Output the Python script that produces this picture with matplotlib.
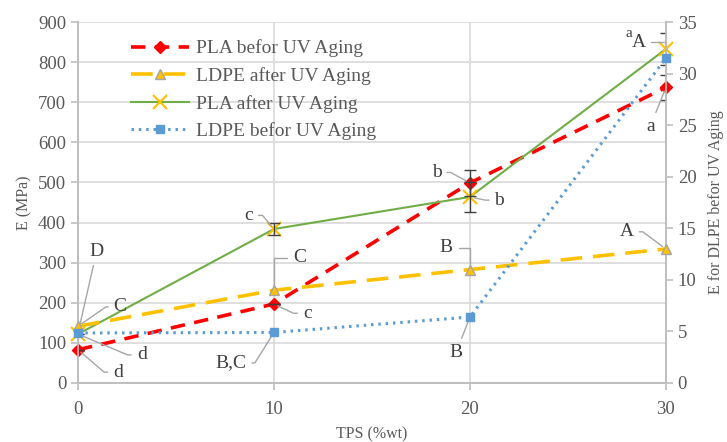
import matplotlib
matplotlib.use("Agg")
import matplotlib.pyplot as plt

# data
tps = [0, 10, 20, 30]
pla_before = [83, 197, 499, 737]
pla_before_err = [0, 0, 33, 32]
pla_after = [122, 384, 464, 833]
pla_after_err = [0, 15, 37, 40]
ldpe_after = [5.5, 9.0, 11.0, 13.0]      # right axis
ldpe_before = [4.85, 4.9, 6.4, 31.5]     # right axis

plt.rcParams['font.family'] = ['Liberation Serif', 'DejaVu Serif']
grey = '#595959'

fig = plt.figure(figsize=(7.27, 4.42), dpi=100)
ax = fig.add_axes([0.1073, 0.1335, 0.8087, 0.8165])
ax2 = ax.twinx()

# series
l1, = ax.plot(tps, pla_before, color='#FF0000', lw=2.6, dashes=(4, 2.6),
              marker='D', ms=6.5, mfc='#FF0000', mec='#FF0000', clip_on=False, zorder=4)
ax.errorbar(tps, pla_before, yerr=pla_before_err, fmt='none', ecolor='#404040',
            elinewidth=1, capsize=4, zorder=5)
l3, = ax.plot(tps, pla_after, color='#70AD47', lw=1.5,
              marker='x', ms=10, mew=1.5, mec='#FFC000', clip_on=False, zorder=4)
ax.errorbar(tps, pla_after, yerr=pla_after_err, fmt='none', ecolor='#404040',
            elinewidth=1, capsize=4, zorder=5)
l2, = ax2.plot(tps, ldpe_after, color='#FFC000', lw=2.6, dashes=(6, 3),
               marker='^', ms=6.5, mfc='#FFC000', mec='#A5A5A5', clip_on=False, zorder=4)
l4, = ax2.plot(tps, ldpe_before, color='#5B9BD5', lw=2.2, dashes=(0.8, 1.6),
               marker='s', ms=6, mfc='#5B9BD5', mec='#5B9BD5', clip_on=False, zorder=4)

ax.set_xlim(0, 30)
ax.set_ylim(0, 900)
ax2.set_ylim(0, 35)
ax.set_xticks(tps)
ax.set_yticks(range(0, 901, 100))
ax2.set_yticks(range(0, 36, 5))
ax.grid(True, color='#D9D9D9', lw=1.2)
ax.set_axisbelow(True)

for a in (ax, ax2):
    a.spines['top'].set_visible(False)
    for s in ('left', 'right', 'bottom'):
        a.spines[s].set_color('#BFBFBF')
        a.spines[s].set_linewidth(1.2)
    a.tick_params(colors='#BFBFBF', labelcolor=grey, labelsize=13.5, length=5, width=1.2)
ax.tick_params(axis='x', pad=8)

ax.set_xlabel('TPS (%wt)', fontsize=11.5, color=grey, labelpad=6)
ax.set_ylabel('E (MPa)', fontsize=11.5, color=grey, labelpad=4)
ax2.set_ylabel('E for DLPE befor UV Aging', fontsize=11.5, color=grey, labelpad=8)

# letter labels with leader lines
labels = [
    # text, axis, y value, x, label x, label y (left units), leader style, arm
    ('D', ax2, ldpe_before[0], 0, 0.95, 328, 'straight', 0),
    ('C', ax2, ldpe_after[0], 0, 2.15, 190, 180, 14),
    ('d', ax, pla_after[0], 0, 3.25, 70, 180, 14),
    ('d', ax, pla_before[0], 0, 2.05, 27, 180, 14),
    ('c', ax, pla_after[1], 10, 8.7, 418, 0, 14),
    ('C', ax2, ldpe_after[1], 10, 11.3, 312, 'down180', 0),
    ('c', ax, pla_before[1], 10, 11.7, 174, 180, 14),
    ('B,C', ax2, ldpe_before[1], 10, 7.8, 50, 0, 24),
    ('b', ax, pla_before[2], 20, 18.3, 525, 0, 14),
    ('b', ax, pla_after[2], 20, 21.5, 456, 180, 14),
    ('B', ax2, ldpe_after[2], 20, 18.8, 337, 'down0', 0),
    ('B', ax2, ldpe_before[2], 20, 19.3, 77, 'straight', 0),
    ('A', ax2, ldpe_after[3], 30, 28.0, 377, 0, 16),
    ('a', ax, pla_before[3], 30, 29.2, 640, 'straight', 0),
    ('A', ax2, ldpe_before[3], 30, 28.6, 850, 'down0', 0),
]
for txt, a, yv, xv, tx, ty, style, arm in labels:
    if style == 'straight':
        cs = 'arc3,rad=0'
    elif style == 'down0':
        cs = 'angle,angleA=0,angleB=90,rad=0'
    elif style == 'down180':
        cs = 'angle,angleA=180,angleB=90,rad=0'
    else:
        cs = 'arc,angleA=%d,angleB=0,armA=%d,armB=0,rad=0' % (style, arm)
    ax.annotate(txt, xy=(xv, yv), xycoords=a.transData,
                xytext=(tx, ty), textcoords=ax.transData,
                ha='center', va='center', fontsize=14, color='#404040',
                arrowprops=dict(arrowstyle='-', color='#A6A6A6', lw=1,
                                connectionstyle=cs, shrinkA=2, shrinkB=3),
                annotation_clip=False, zorder=6)
ax.text(28.1, 872, 'a', fontsize=11, color='#404040', ha='center', va='center')

leg = ax.legend([l1, l2, l3, l4],
                ['PLA befor UV Aging', 'LDPE after UV Aging',
                 'PLA after UV Aging', 'LDPE befor UV Aging'],
                loc='upper left', bbox_to_anchor=(0.06, 1.0), frameon=False,
                fontsize=14, handlelength=3.0, labelspacing=0.5,
                handletextpad=0.35, labelcolor=grey)
ax2.set_zorder(ax.get_zorder() + 1)
ax2.patch.set_visible(False)

fig.savefig('out.png', dpi=100)
